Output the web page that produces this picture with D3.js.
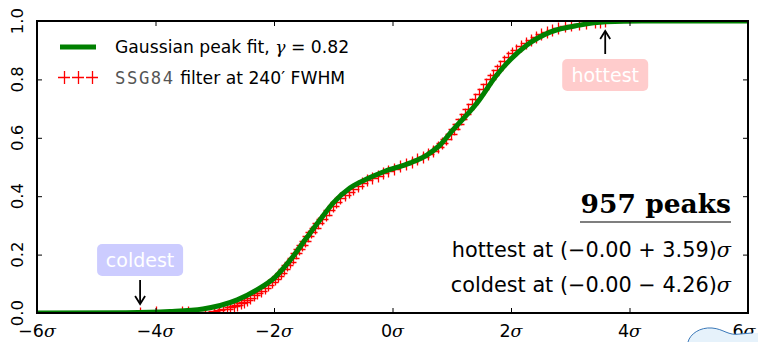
<!doctype html>
<html lang="en">
<head>
<meta charset="UTF-8">
<title>Peak CDF</title>
<script src="https://d3js.org/d3.v7.min.js"></script>
<style>
  body { margin: 0; background: #fff; }
</style>
</head>
<body>
<div id="chart-area"></div>
<script>

// --- data ---
const xTicks = [-6, -4, -2, 0, 2, 4, 6];
const yTicks = [0, 0.2, 0.4, 0.6, 0.8, 1.0];

// gaussian peak fit curve: sigma position and cumulative fraction
const fitX = [-6, -4.5, -3.76, -3.2, -2.62, -2.29, -1.98, -1.73, -1.44, -1.2, -1.0, -0.72, -0.4, -0.16,
              0.3, 0.58, 0.8, 1.02, 1.43, 1.76, 2.0, 2.27, 2.66, 3.16, 3.6, 4.2, 6];
const fitF = [0, 0.001, 0.005, 0.014, 0.045, 0.079, 0.123, 0.18, 0.26, 0.325, 0.377, 0.428, 0.462, 0.483,
              0.514, 0.541, 0.575, 0.627, 0.72, 0.815, 0.87, 0.918, 0.962, 0.986, 0.997, 1.0, 1.0];

// SSG84 filtered peaks: sorted peak height (sigma) and cumulative fraction
const peakX = [-4.26, -4.00, -3.56, -3.45, -3.16, -3.02, -2.93, -2.86, -2.80, -2.74, -2.68, -2.62, -2.56,
               -2.50, -2.45, -2.40, -2.34, -2.28, -2.22, -2.16, -2.10, -2.04, -1.98, -1.93, -1.88, -1.83,
               -1.78, -1.73, -1.68, -1.63, -1.58, -1.53, -1.48, -1.43, -1.37, -1.31, -1.25, -1.19, -1.13,
               -1.07, -1.01, -0.95, -0.88, -0.81, -0.74, -0.67, -0.59, -0.51, -0.43, -0.34, -0.25, -0.16,
               -0.07, 0.03, 0.13, 0.23, 0.33, 0.42, 0.51, 0.60, 0.68, 0.76, 0.84, 0.91, 0.98, 1.04, 1.10,
               1.16, 1.22, 1.28, 1.34, 1.40, 1.46, 1.52, 1.58, 1.64, 1.70, 1.76, 1.82, 1.88, 1.95, 2.02,
               2.09, 2.17, 2.25, 2.33, 2.42, 2.51, 2.60, 2.70, 2.80, 2.91, 3.02, 3.14, 3.27, 3.42, 3.50, 3.59];
const peakF = [0.001, 0.002, 0.003, 0.004, 0.005, 0.007, 0.009, 0.012, 0.015, 0.019, 0.023, 0.028, 0.033,
               0.039, 0.045, 0.052, 0.060, 0.068, 0.077, 0.086, 0.095, 0.105, 0.115, 0.126, 0.138, 0.150,
               0.163, 0.176, 0.190, 0.204, 0.218, 0.232, 0.247, 0.262, 0.277, 0.292, 0.307, 0.322, 0.337,
               0.352, 0.366, 0.380, 0.393, 0.405, 0.416, 0.426, 0.436, 0.445, 0.454, 0.462, 0.470, 0.478,
               0.486, 0.494, 0.502, 0.510, 0.518, 0.526, 0.535, 0.545, 0.556, 0.568, 0.582, 0.597, 0.613,
               0.630, 0.647, 0.664, 0.681, 0.698, 0.715, 0.732, 0.749, 0.766, 0.783, 0.800, 0.816, 0.832,
               0.847, 0.862, 0.876, 0.889, 0.902, 0.914, 0.925, 0.935, 0.945, 0.954, 0.962, 0.969, 0.976,
               0.982, 0.987, 0.991, 0.994, 0.996, 0.998, 1.0];

const nPeaks = 957;
const hottest = 3.59;
const coldest = -4.26;

// --- layout ---
const W = 758, H = 342;
const plot = { left: 37, right: 748, top: 21, bottom: 313 };
const serif = '"DejaVu Serif", serif';

const svg = d3.select('#chart-area')
    .append('svg')
    .attr('width', W)
    .attr('height', H)
    .attr('font-family', '"DejaVu Sans", sans-serif');

const x = d3.scaleLinear().domain([-6, 6]).range([plot.left, plot.right]);
const y = d3.scaleLinear().domain([0, 1]).range([plot.bottom, plot.top]);

svg.append('clipPath').attr('id', 'clip')
    .append('rect')
    .attr('x', plot.left).attr('y', plot.top)
    .attr('width', plot.right - plot.left).attr('height', plot.bottom - plot.top);

const dataG = svg.append('g').attr('clip-path', 'url(#clip)');

// red + markers
const plus = 6;
const peaks = peakX.map((v, i) => [v, peakF[i]]);
dataG.append('path')
    .attr('d', peaks.map(d => {
        const px = Math.round(x(d[0])) + 0.5, py = Math.round(y(d[1])) + 0.5;
        return `M${px - plus},${py}h${2 * plus}M${px},${py - plus}v${2 * plus}`;
    }).join(''))
    .attr('stroke', '#ff0000')
    .attr('stroke-width', 1.3)
    .attr('fill', 'none');

// green fit
const fit = fitX.map((v, i) => [v, fitF[i]]);
dataG.append('path')
    .datum(fit)
    .attr('d', d3.line().x(d => x(d[0])).y(d => y(d[1])).curve(d3.curveMonotoneX))
    .attr('stroke', '#008000')
    .attr('stroke-width', 5)
    .attr('fill', 'none');

// axes, ticks inward on all four sides
const tickLen = 5;
svg.append('g').attr('transform', `translate(0,${plot.bottom})`)
    .call(d3.axisBottom(x).tickValues(xTicks).tickSizeInner(-tickLen).tickSizeOuter(0).tickFormat(''));
svg.append('g').attr('transform', `translate(0,${plot.top})`)
    .call(d3.axisTop(x).tickValues(xTicks).tickSizeInner(-tickLen).tickSizeOuter(0).tickFormat(''));
svg.append('g').attr('transform', `translate(${plot.left},0)`)
    .call(d3.axisLeft(y).tickValues(yTicks).tickSizeInner(-tickLen).tickSizeOuter(0).tickFormat(''));
svg.append('g').attr('transform', `translate(${plot.right},0)`)
    .call(d3.axisRight(y).tickValues(yTicks).tickSizeInner(-tickLen).tickSizeOuter(0).tickFormat(''));
svg.selectAll('.domain').remove();
svg.selectAll('.tick line').attr('stroke', '#000').attr('stroke-width', 1);

svg.append('rect')
    .attr('x', plot.left).attr('y', plot.top)
    .attr('width', plot.right - plot.left).attr('height', plot.bottom - plot.top)
    .attr('fill', 'none').attr('stroke', '#000').attr('stroke-width', 2);

// tick labels
const xl = svg.append('g').selectAll('text').data(xTicks).join('text')
    .attr('x', d => d === 6 ? x(d) - 4 : x(d))
    .attr('y', 337)
    .attr('text-anchor', 'middle')
    .attr('font-size', 17.5)
    .attr('fill', '#000');
xl.append('tspan').text(d => (d < 0 ? '\u2212' : '') + Math.abs(d));
xl.append('tspan').text('σ')
    .attr('font-family', serif)
    .attr('font-style', 'italic');

svg.append('g').selectAll('text').data(yTicks).join('text')
    .attr('transform', d => `translate(23,${y(d)}) rotate(-90)`)
    .attr('text-anchor', 'middle')
    .attr('font-size', 16.5)
    .attr('fill', '#000')
    .text(d => d.toFixed(1));

// legend
const leg = svg.append('g');
leg.append('line')
    .attr('x1', 60).attr('x2', 96).attr('y1', 47).attr('y2', 47)
    .attr('stroke', '#008000').attr('stroke-width', 5);
const t1 = leg.append('text').attr('x', 115).attr('y', 53).attr('font-size', 17.2);
t1.append('tspan').text('Gaussian peak fit, ');
t1.append('tspan').text('γ').attr('font-family', serif).attr('font-style', 'italic');
t1.append('tspan').text(' = 0.82');

[64, 78, 92].forEach(cx => {
    leg.append('path')
        .attr('d', `M${cx - 6},77.5h12M${cx + 0.5},71v13`)
        .attr('stroke', '#ff0000').attr('stroke-width', 1.3);
});
const t2 = leg.append('text').attr('x', 115).attr('y', 84).attr('font-size', 17.2);
t2.append('tspan').text('SSG84')
    .attr('font-family', '"DejaVu Sans Mono", monospace')
    .attr('letter-spacing', 1.6)
    .attr('fill', '#555');
t2.append('tspan').text(' filter at 240′ FWHM');

// hottest / coldest annotations
function annot(label, xv, boxY, fill, arrowFrom, arrowTo) {
    const cx = x(xv);
    svg.append('rect')
        .attr('x', cx - 43).attr('y', boxY).attr('width', 86).attr('height', 32)
        .attr('rx', 5).attr('fill', fill);
    svg.append('text')
        .attr('x', cx).attr('y', boxY + 23)
        .attr('text-anchor', 'middle').attr('font-size', 19).attr('fill', '#fff')
        .text(label);
    svg.append('line')
        .attr('x1', cx).attr('x2', cx).attr('y1', arrowFrom).attr('y2', arrowTo)
        .attr('stroke', '#000').attr('stroke-width', 1.8);
    const dir = arrowTo < arrowFrom ? 1 : -1;
    svg.append('path')
        .attr('d', `M${cx - 5},${arrowTo + dir * 8}L${cx},${arrowTo}L${cx + 5},${arrowTo + dir * 8}`)
        .attr('stroke', '#000').attr('stroke-width', 1.8).attr('fill', 'none');
}
annot('hottest', hottest, 59, '#ffcccc', 54, 31);
annot('coldest', coldest, 244, '#ccccff', 280, 304);

// summary
svg.append('text')
    .attr('x', 731).attr('y', 213)
    .attr('text-anchor', 'end')
    .attr('font-family', serif)
    .attr('font-weight', 'bold')
    .attr('font-size', 26.5)
    .text(`${nPeaks} peaks`);
svg.append('line')
    .attr('x1', 580).attr('x2', 731).attr('y1', 222).attr('y2', 222)
    .attr('stroke', '#000').attr('stroke-width', 1.2);

function sumLine(word, val, sign, yy) {
    const t = svg.append('text').attr('x', 731).attr('y', yy)
        .attr('text-anchor', 'end').attr('font-size', 20.8);
    t.append('tspan').text(`${word} at (\u22120.00 ${sign} ${Math.abs(val).toFixed(2)})`);
    t.append('tspan').text('σ').attr('font-family', serif).attr('font-style', 'italic');
}
sumLine('hottest', hottest, '+', 257);
sumLine('coldest', coldest, '\u2212', 292);

// stray logo fragment, bottom right
svg.append('path')
    .attr('d', 'M688,342 C690,334 700,327 712,328 C724,329 728,336 740,334 L758,333 L758,342 Z')
    .attr('fill', '#e6f2fb');
svg.append('path')
    .attr('d', 'M688,342 C690,334 700,327 712,328 C724,329 728,336 740,334 L752,333')
    .attr('fill', 'none').attr('stroke', '#3a78b8').attr('stroke-width', 1);

</script>
</body>
</html>
